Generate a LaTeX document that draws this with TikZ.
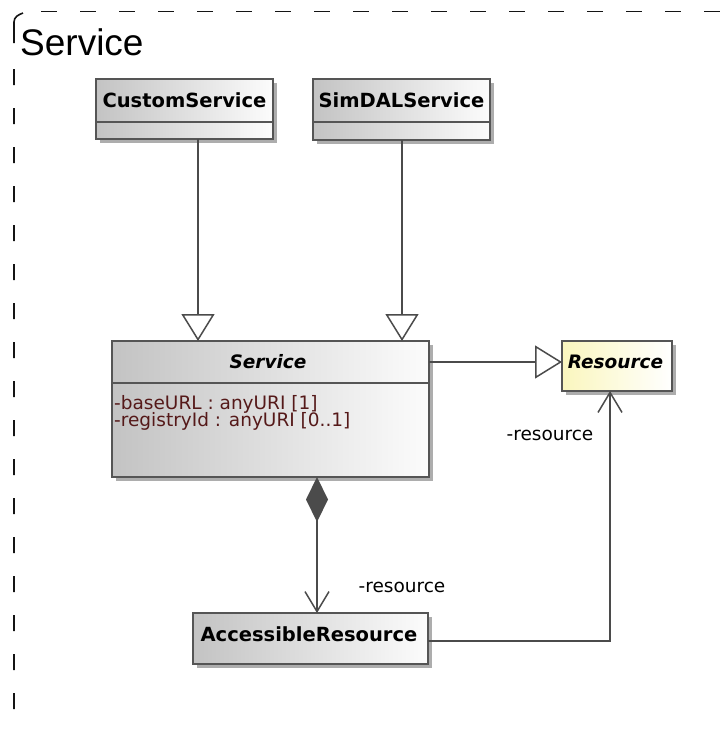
\documentclass[tikz,border=0pt]{standalone}
\usepackage{fontspec}
\setmainfont{DejaVu Sans}
\newfontfamily\framefont{Liberation Sans}
\usetikzlibrary{arrows.meta,shadows}
\definecolor{boxL}{RGB}{195,195,195}
\definecolor{boxR}{RGB}{252,252,252}
\definecolor{resL}{RGB}{250,246,190}
\definecolor{edgec}{RGB}{85,85,85}
\definecolor{linec}{RGB}{75,75,75}
\definecolor{attrc}{RGB}{85,25,25}
\definecolor{framec}{RGB}{20,20,20}
\tikzset{
  umlbox/.style={draw=edgec, line width=1.5pt, left color=boxL, right color=boxR,
    drop shadow={shadow xshift=4pt, shadow yshift=-4pt, fill=black!32, opacity=1},
    anchor=north west, inner sep=0pt, outer sep=0pt},
  resbox/.style={umlbox, left color=resL, right color=white},
  sepline/.style={draw=edgec, line width=1.5pt},
  titletext/.style={font=\bfseries\fontsize{19.5}{22}\selectfont, inner sep=0pt},
  ititle/.style={font=\bfseries\itshape\fontsize{18.5}{22}\selectfont, inner sep=0pt},
  attrtext/.style={font=\fontsize{18.5}{20}\selectfont, text=attrc, anchor=west, inner sep=0pt},
  lbl/.style={font=\fontsize{18.5}{22}\selectfont, inner sep=0pt},
  gen/.style={draw=linec, line width=1.5pt, -{Triangle[open, length=27pt, width=33pt, fill=white]}},
  comp/.style={draw=linec, line width=1.5pt, {Diamond[length=45pt, width=22pt, fill=linec]}-{Straight Barb[length=20pt, width=24pt]}},
  assoc/.style={draw=linec, line width=1.5pt, -{Straight Barb[length=20pt, width=24pt]}},
  framedash/.style={draw=framec, line width=1.6pt, line cap=butt, dash pattern=on 16pt off 23pt}
}
\begin{document}
\begin{tikzpicture}[x=1pt, y=-1pt]
\useasboundingbox (0,0) rectangle (726,731);
\clip (0,0) rectangle (726,731);
% frame
\draw[framedash] (41,11.5) -- (760,11.5);
\draw[framec, line width=1.6pt] (14,43) -- (14,22) to[out=90, in=200] (23,13);
\draw[framedash] (14,69) -- (14,727) to[out=270, in=180] (26,737) -- (760,737);
\node[anchor=base west, font=\framefont\fontsize{37}{42}\selectfont, inner sep=0pt] (ftitle) at (20,55) {Service};
% classes
\node[umlbox, minimum width=177pt, minimum height=60pt] (custom) at (96,79) {};
\draw[sepline] (96,122) -- (273,122);
\node[titletext] (customt) at (184.5,100.5) {CustomService};
\node[umlbox, minimum width=177pt, minimum height=61pt] (simdal) at (313,79) {};
\draw[sepline] (313,122) -- (490,122);
\node[titletext] (simdalt) at (401.5,100.5) {SimDALService};
\node[umlbox, minimum width=317pt, minimum height=136pt] (service) at (112,341) {};
\draw[sepline] (112,383) -- (429,383);
\node[ititle] (servicet) at (268,361.5) {Service};
\node[attrtext] (a1) at (114,404) {-baseURL : anyURI [1]};
\node[attrtext] (a2) at (114,421.5) {-registryId : anyURI [0..1]};
\node[resbox, minimum width=110pt, minimum height=50pt] (resource) at (562,341) {};
\node[ititle] (resourcet) at (615.5,362) {Resource};
\node[umlbox, minimum width=235pt, minimum height=51pt] (acc) at (193,613) {};
\node[titletext] (acct) at (309,634) {AccessibleResource};
% connectors
\coordinate (c1) at (198,341);
\coordinate (c2) at (402,341);
\coordinate (c3) at (317,477);
\coordinate (c4) at (429,362);
\coordinate (c6) at (610,641);
\draw[gen] (custom.south -| c1) -- (service.north -| c1);
\draw[gen] (simdal.south -| c2) -- (service.north -| c2);
\draw[gen] (service.east |- c4) -- (resource.west |- c4);
\draw[comp] (service.south -| c3) -- (acc.north -| c3);
\draw[assoc] (acc.east |- c6) -- (c6) -- (resource.south -| c6);
\node[lbl] (l1) at (402,587) {-resource};
\node[lbl] (l2) at (550,435) {-resource};
\end{tikzpicture}
\end{document}
